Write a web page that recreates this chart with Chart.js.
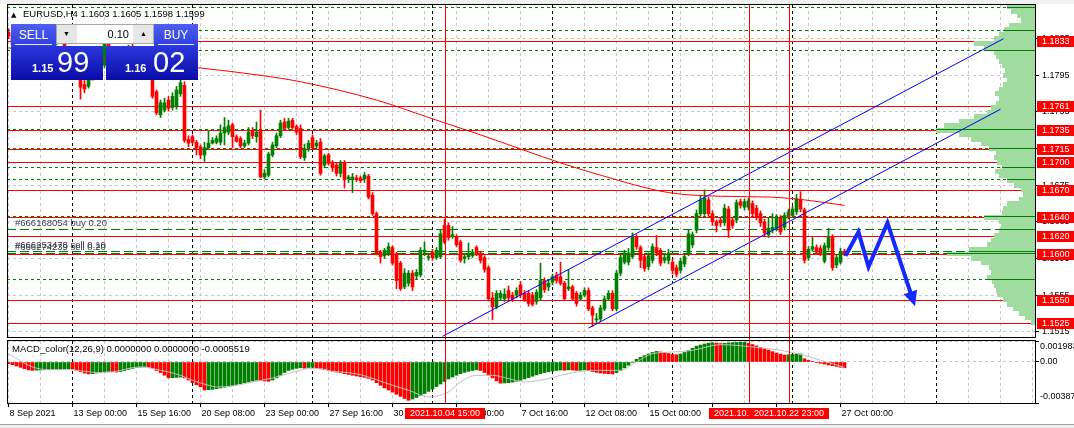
<!DOCTYPE html>
<html>
<head>
<meta charset="utf-8">
<script src="https://cdn.jsdelivr.net/npm/chart.js@4.4.1/dist/chart.umd.min.js"></script>
<style>
body { margin:0; width:1074px; height:428px; overflow:hidden; position:relative; background:#fff; font-family:'Liberation Sans', Arial, sans-serif; }
canvas { position:absolute; left:0; }
#c1 { top:0; }
#c2 { top:338px; }
#topbar { position:absolute; left:0; top:0; width:1074px; height:4px; background:#f0f0f0; }
#botbar { position:absolute; left:0; top:424px; width:1074px; height:4px; background:#f0f0f0; border-top:1px solid #a0a0a0; }
#tp div { position:absolute; box-sizing:border-box; }
#tp .hd { top:24px; height:22px; background:linear-gradient(#4d5ff4,#2f3fdc); color:#fff; font-size:12px; text-align:center; padding-top:5px; line-height:12px; }
#tp .hd i { position:absolute; left:4px; right:4px; bottom:1px; height:1px; background:#dfe3ff; }
#tp .lot { left:56px; top:24px; width:98px; height:20px; background:#e6e6e6; border:1px solid #a8a8a8; }
#tp .lot .sp { top:0; width:19px; height:18px; font-size:7px; text-align:center; line-height:18px; color:#000; }
#tp .lot .fld { left:20px; top:0; width:56px; height:18px; background:#fff; font-size:11px; text-align:right; padding-right:4px; line-height:19px; color:#000; }
#tp .pb { top:46px; width:92px; height:34px; background:linear-gradient(#2b37dc,#0a0ca8); color:#fff; }
#tp .pb b { position:absolute; top:17px; font-size:11px; line-height:11px; }
#tp .pb span { position:absolute; top:2px; font-size:29px; line-height:29px; }
</style>
</head>
<body>
<div id="topbar"></div>
<canvas id="c1" width="1074" height="338"></canvas>
<canvas id="c2" width="1074" height="90"></canvas>
<div id="botbar"></div>
<div id="tp">
  <div class="hd" style="left:11px;width:45px">SELL<i></i></div>
  <div class="lot"><div class="sp" style="left:0">&#9660;</div><div class="fld" id="lotFld"></div><div class="sp" style="left:77px">&#9650;</div></div>
  <div class="hd" style="left:154px;width:44px">BUY<i></i></div>
  <div class="pb" style="left:11px"><b id="bidA" style="left:21px"></b><span id="bidB" style="left:46px"></span></div>
  <div class="pb" style="left:106px"><b id="askA" style="left:19px"></b><span id="askB" style="left:47px"></span></div>
</div>
<script>
// EURUSD H4, bars from 8 Sep 08:00 to 27 Oct 04:00
const symbol = 'EURUSD,H4';
const bidPrice = 1.1599;
const askPrice = 1.1602;
const lotSize = 0.10;

const opens = [
  1.1842,1.1838,1.1829,1.1832,1.1826,1.1815,1.1819,1.1830,1.1840,1.1825,
  1.1828,1.1831,1.1833,1.1836,1.1834,1.1822,1.1816,1.1812,1.1795,1.1785,
  1.1783,1.1790,1.1800,1.1810,1.1806,1.1836,1.1815,1.1805,1.1808,1.1812,
  1.1809,1.1825,1.1818,1.1813,1.1816,1.1803,1.1800,1.1777,1.1752,1.1757,
  1.1768,1.1760,1.1761,1.1775,1.1784,1.1725,1.1728,1.1722,1.1717,1.1708,
  1.1716,1.1721,1.1722,1.1722,1.1732,1.1733,1.1741,1.1728,1.1726,1.1718,
  1.1721,1.1735,1.1728,1.1735,1.1684,1.1686,1.1708,1.1718,1.1729,1.1744,
  1.1738,1.1746,1.1739,1.1737,1.1705,1.1716,1.1727,1.1718,1.1722,1.1697,
  1.1708,1.1699,1.1697,1.1688,1.1699,1.1682,1.1681,1.1683,1.1683,1.1682,
  1.1685,1.1664,1.1644,1.1602,1.1598,1.1601,1.1607,1.1600,1.1590,1.1564,
  1.1568,1.1579,1.1576,1.1577,1.1602,1.1596,1.1602,1.1596,1.1597,1.1631,
  1.1631,1.1619,1.1619,1.1613,1.1595,1.1597,1.1598,1.1607,1.1601,1.1596,
  1.1585,1.1552,1.1542,1.1552,1.1551,1.1560,1.1555,1.1555,1.1566,1.1557,
  1.1557,1.1555,1.1548,1.1552,1.1571,1.1564,1.1569,1.1577,1.1575,1.1568,
  1.1562,1.1564,1.1557,1.1551,1.1555,1.1560,1.1541,1.1528,1.1529,1.1540,
  1.1551,1.1557,1.1540,1.1579,1.1591,1.1591,1.1597,1.1618,1.1607,1.1597,
  1.1586,1.1593,1.1607,1.1604,1.1593,1.1593,1.1591,1.1585,1.1582,1.1589,
  1.1601,1.1610,1.1626,1.1644,1.1644,1.1659,1.1644,1.1635,1.1637,1.1634,
  1.1649,1.1637,1.1637,1.1657,1.1651,1.1651,1.1655,1.1650,1.1644,1.1635,
  1.1621,1.1626,1.1628,1.1639,1.1629,1.1641,1.1642,1.1646,1.1659,1.1648,
  1.1596,1.1605,1.1607,1.1606,1.1592,1.1607,1.1618,1.1588,1.1591,1.1603
];
const highs = [
  1.1846,1.1842,1.1834,1.1836,1.1830,1.1822,1.1832,1.1845,1.1842,1.1832,
  1.1834,1.1836,1.1840,1.1842,1.1838,1.1826,1.1820,1.1814,1.1798,1.1790,
  1.1797,1.1802,1.1812,1.1818,1.1845,1.1840,1.1820,1.1812,1.1815,1.1818,
  1.1828,1.1831,1.1823,1.1819,1.1820,1.1810,1.1804,1.1779,1.1768,1.1770,
  1.1772,1.1776,1.1783,1.1790,1.1788,1.1729,1.1730,1.1724,1.1719,1.1722,
  1.1735,1.1727,1.1729,1.1741,1.1749,1.1746,1.1743,1.1730,1.1728,1.1724,
  1.1738,1.1738,1.1744,1.1757,1.1692,1.1711,1.1722,1.1732,1.1746,1.1748,
  1.1748,1.1748,1.1741,1.1741,1.1720,1.1724,1.1730,1.1724,1.1726,1.1709,
  1.1710,1.1702,1.1699,1.1702,1.1702,1.1686,1.1688,1.1686,1.1685,1.1689,
  1.1687,1.1667,1.1646,1.1604,1.1606,1.1612,1.1609,1.1602,1.1592,1.1584,
  1.1582,1.1582,1.1583,1.1607,1.1613,1.1601,1.1605,1.1607,1.1627,1.1638,
  1.1634,1.1630,1.1621,1.1615,1.1600,1.1612,1.1605,1.1609,1.1603,1.1598,
  1.1587,1.1558,1.1560,1.1560,1.1562,1.1565,1.1558,1.1563,1.1570,1.1560,
  1.1560,1.1558,1.1561,1.1590,1.1574,1.1572,1.1578,1.1580,1.1591,1.1570,
  1.1583,1.1566,1.1559,1.1558,1.1563,1.1563,1.1543,1.1535,1.1544,1.1554,
  1.1560,1.1560,1.1582,1.1599,1.1604,1.1606,1.1623,1.1621,1.1609,1.1599,
  1.1601,1.1611,1.1620,1.1606,1.1600,1.1605,1.1594,1.1588,1.1595,1.1600,
  1.1626,1.1624,1.1648,1.1663,1.1670,1.1662,1.1647,1.1637,1.1640,1.1654,
  1.1652,1.1639,1.1659,1.1660,1.1660,1.1661,1.1658,1.1653,1.1647,1.1638,
  1.1640,1.1644,1.1643,1.1642,1.1645,1.1649,1.1652,1.1665,1.1668,1.1650,
  1.1608,1.1618,1.1610,1.1609,1.1612,1.1628,1.1621,1.1599,1.1606,1.1605
];
const lows = [
  1.1835,1.1826,1.1822,1.1824,1.1812,1.1810,1.1816,1.1826,1.1822,1.1820,
  1.1825,1.1827,1.1828,1.1830,1.1818,1.1812,1.1808,1.1792,1.1769,1.1776,
  1.1781,1.1790,1.1796,1.1804,1.1803,1.1812,1.1800,1.1798,1.1802,1.1806,
  1.1805,1.1815,1.1808,1.1806,1.1800,1.1795,1.1770,1.1752,1.1749,1.1755,
  1.1756,1.1757,1.1758,1.1772,1.1722,1.1717,1.1720,1.1708,1.1704,1.1701,
  1.1714,1.1720,1.1720,1.1719,1.1719,1.1730,1.1716,1.1722,1.1716,1.1716,
  1.1719,1.1726,1.1722,1.1683,1.1682,1.1684,1.1706,1.1716,1.1727,1.1735,
  1.1736,1.1736,1.1730,1.1704,1.1702,1.1712,1.1714,1.1715,1.1686,1.1694,
  1.1697,1.1690,1.1685,1.1684,1.1672,1.1678,1.1667,1.1679,1.1678,1.1678,
  1.1660,1.1642,1.1599,1.1590,1.1595,1.1598,1.1588,1.1562,1.1560,1.1562,
  1.1565,1.1560,1.1573,1.1575,1.1598,1.1593,1.1593,1.1594,1.1595,1.1611,
  1.1615,1.1617,1.1608,1.1591,1.1590,1.1594,1.1596,1.1598,1.1590,1.1580,
  1.1549,1.1528,1.1540,1.1549,1.1548,1.1549,1.1548,1.1552,1.1552,1.1548,
  1.1543,1.1543,1.1545,1.1549,1.1558,1.1560,1.1566,1.1568,1.1566,1.1549,
  1.1560,1.1549,1.1543,1.1549,1.1553,1.1538,1.1521,1.1524,1.1526,1.1538,
  1.1549,1.1538,1.1538,1.1576,1.1589,1.1588,1.1595,1.1605,1.1585,1.1581,
  1.1583,1.1590,1.1598,1.1587,1.1590,1.1589,1.1578,1.1575,1.1579,1.1586,
  1.1598,1.1607,1.1623,1.1641,1.1642,1.1641,1.1631,1.1624,1.1630,1.1631,
  1.1618,1.1628,1.1634,1.1650,1.1648,1.1648,1.1640,1.1637,1.1630,1.1620,
  1.1618,1.1623,1.1625,1.1621,1.1626,1.1638,1.1640,1.1643,1.1646,1.1590,
  1.1593,1.1603,1.1600,1.1598,1.1590,1.1604,1.1582,1.1585,1.1589,1.1598
];
const closes = [
  1.1838,1.1829,1.1832,1.1826,1.1815,1.1819,1.1830,1.1840,1.1825,1.1828,
  1.1831,1.1833,1.1836,1.1834,1.1822,1.1816,1.1812,1.1795,1.1782,1.1780,
  1.1790,1.1800,1.1810,1.1806,1.1836,1.1815,1.1805,1.1808,1.1812,1.1809,
  1.1825,1.1818,1.1813,1.1816,1.1803,1.1800,1.1772,1.1754,1.1765,1.1765,
  1.1759,1.1772,1.1779,1.1787,1.1724,1.1721,1.1722,1.1716,1.1708,1.1716,
  1.1721,1.1724,1.1726,1.1732,1.1738,1.1740,1.1728,1.1723,1.1718,1.1721,
  1.1733,1.1729,1.1733,1.1684,1.1688,1.1709,1.1719,1.1729,1.1743,1.1737,
  1.1745,1.1738,1.1733,1.1706,1.1715,1.1721,1.1716,1.1721,1.1688,1.1707,
  1.1699,1.1694,1.1688,1.1699,1.1681,1.1684,1.1684,1.1681,1.1680,1.1686,
  1.1662,1.1644,1.1601,1.1597,1.1604,1.1608,1.1590,1.1571,1.1562,1.1579,
  1.1579,1.1564,1.1580,1.1604,1.1604,1.1597,1.1596,1.1604,1.1622,1.1613,
  1.1618,1.1621,1.1610,1.1593,1.1597,1.1600,1.1602,1.1601,1.1593,1.1583,
  1.1551,1.1542,1.1557,1.1557,1.1556,1.1552,1.1551,1.1560,1.1555,1.1550,
  1.1546,1.1545,1.1558,1.1571,1.1561,1.1568,1.1575,1.1571,1.1568,1.1551,
  1.1564,1.1551,1.1546,1.1555,1.1560,1.1540,1.1533,1.1529,1.1541,1.1551,
  1.1557,1.1540,1.1579,1.1596,1.1601,1.1601,1.1619,1.1608,1.1593,1.1584,
  1.1598,1.1608,1.1601,1.1590,1.1596,1.1601,1.1582,1.1578,1.1592,1.1597,
  1.1622,1.1621,1.1644,1.1659,1.1661,1.1644,1.1635,1.1631,1.1634,1.1650,
  1.1626,1.1631,1.1656,1.1653,1.1657,1.1658,1.1644,1.1640,1.1634,1.1623,
  1.1628,1.1629,1.1640,1.1624,1.1642,1.1646,1.1649,1.1660,1.1649,1.1593,
  1.1605,1.1608,1.1602,1.1601,1.1609,1.1618,1.1585,1.1596,1.1602,1.1599
];

// moving average (red), read at a few bars
const maIdx = [0, 20, 36, 48, 63, 73, 92, 105, 118, 139, 148, 165, 178, 191, 199, 209];
const maVal = [1.1825, 1.1815, 1.1808, 1.1803, 1.1795, 1.1788, 1.1768, 1.1749, 1.1730, 1.1698, 1.1686, 1.1667, 1.1663, 1.1662, 1.1659, 1.1653];

// channel lines and the hand drawn arrow
const chanAIdx = [108.5, 248.75], chanAVal = [1.1510, 1.1835];
const chanBIdx = [145, 248], chanBVal = [1.1519, 1.1758];
const arrowIdx = [209.25, 212.5, 215, 219.75, 226.25];
const arrowVal = [1.1598, 1.1624, 1.1586, 1.1634, 1.1548];

// horizontal levels
const redLevels = [1.1833, 1.1761, 1.1735, 1.1715, 1.1700, 1.1670, 1.1640, 1.1620, 1.1600, 1.1550, 1.1525];
const greenDotLevels = [1.1870, 1.1845, 1.1823, 1.1736, 1.1716, 1.1695, 1.1682, 1.1641, 1.1573];
const greenDashLevels = [1.1627, 1.1603, 1.1601];
const orderTexts = ['#666168054 buy 0.20', '#666253478 sell 0.10', '#666274239 sell 0.20'];
const orderLevels = [1.1627, 1.1603, 1.1601];

// vertical lines
const vLineIdx = [109, 185, 195];
const vLineLabels = ['2021.10.04 15:00', '2021.10.21 04:00', '2021.10.22 23:00'];

// volume profile on the right
const profLevels = [
  1.1870,1.1865,1.1860,1.1855,1.1850,1.1845,1.1840,1.1835,1.1830,1.1825,
  1.1820,1.1815,1.1810,1.1805,1.1800,1.1795,1.1790,1.1785,1.1780,1.1775,
  1.1770,1.1765,1.1760,1.1755,1.1750,1.1745,1.1740,1.1735,1.1730,1.1725,
  1.1720,1.1715,1.1710,1.1705,1.1700,1.1695,1.1690,1.1685,1.1680,1.1675,
  1.1670,1.1665,1.1660,1.1655,1.1650,1.1645,1.1640,1.1635,1.1630,1.1625,
  1.1620,1.1615,1.1610,1.1605,1.1600,1.1595,1.1590,1.1585,1.1580,1.1575,
  1.1570,1.1565,1.1560,1.1555,1.1550,1.1545,1.1540,1.1535,1.1530,1.1525
];
const profVol = [
  28,24,18,14,26,31,36,41,61,51,
  41,39,36,33,30,32,28,32,36,40,
  36,39,44,48,61,76,91,99,76,64,
  54,46,39,41,38,33,40,36,28,21,
  14,12,16,28,32,33,51,36,34,36,
  41,44,48,66,88,64,54,46,44,48,
  43,41,39,38,32,28,22,16,10,4
];

// axes
const priceTicks = [1.1515, 1.1555, 1.1595, 1.1635, 1.1675, 1.1715, 1.1755, 1.1795, 1.1835];
const timeIdx = [0, 16, 32, 48, 64, 80, 96, 112, 128, 144, 160, 176, 192, 208];
const timeLabels = ['8 Sep 2021', '13 Sep 00:00', '15 Sep 16:00', '20 Sep 08:00', '23 Sep 00:00', '27 Sep 16:00',
  '30 Sep 08:00', '5 Oct 00:00', '7 Oct 16:00', '12 Oct 08:00', '15 Oct 00:00', '19 Oct 16:00', '22 Oct 08:00', '27 Oct 00:00'];
const sepIdx = [16, 46, 76, 106, 136, 166, 196, 232];

// MACD window
const macdHist = [
  -0.00016,-0.00025,-0.00038,-0.00050,-0.00063,-0.00075,-0.00079,-0.00077,-0.00076,-0.00074,
  -0.00073,-0.00072,-0.00070,-0.00068,-0.00066,-0.00063,-0.00068,-0.00078,-0.00092,-0.00105,
  -0.00112,-0.00110,-0.00104,-0.00097,-0.00090,-0.00088,-0.00092,-0.00095,-0.00090,-0.00080,
  -0.00070,-0.00060,-0.00052,-0.00048,-0.00046,-0.00049,-0.00060,-0.00080,-0.00100,-0.00125,
  -0.00150,-0.00148,-0.00145,-0.00142,-0.00150,-0.00170,-0.00195,-0.00215,-0.00235,-0.00265,
  -0.00262,-0.00258,-0.00252,-0.00245,-0.00238,-0.00230,-0.00222,-0.00213,-0.00205,-0.00196,
  -0.00188,-0.00180,-0.00172,-0.00175,-0.00180,-0.00182,-0.00170,-0.00150,-0.00125,-0.00100,
  -0.00080,-0.00068,-0.00060,-0.00055,-0.00058,-0.00052,-0.00050,-0.00055,-0.00065,-0.00072,
  -0.00080,-0.00088,-0.00095,-0.00102,-0.00110,-0.00118,-0.00125,-0.00132,-0.00138,-0.00145,
  -0.00155,-0.00170,-0.00195,-0.00220,-0.00245,-0.00265,-0.00285,-0.00305,-0.00325,-0.00345,
  -0.00362,-0.00350,-0.00335,-0.00318,-0.00298,-0.00278,-0.00256,-0.00232,-0.00208,-0.00185,
  -0.00160,-0.00142,-0.00125,-0.00110,-0.00098,-0.00088,-0.00080,-0.00074,-0.00080,-0.00100,
  -0.00125,-0.00150,-0.00178,-0.00200,-0.00198,-0.00195,-0.00190,-0.00182,-0.00172,-0.00160,
  -0.00148,-0.00135,-0.00122,-0.00110,-0.00100,-0.00092,-0.00085,-0.00080,-0.00076,-0.00078,
  -0.00074,-0.00076,-0.00080,-0.00078,-0.00074,-0.00082,-0.00090,-0.00098,-0.00104,-0.00108,
  -0.00111,-0.00113,-0.00100,-0.00080,-0.00055,-0.00030,-0.00005,0.00025,0.00045,0.00060,
  0.00075,0.00090,0.00100,0.00095,0.00088,0.00080,0.00072,0.00068,0.00075,0.00090,
  0.00110,0.00130,0.00150,0.00160,0.00170,0.00178,0.00182,0.00178,0.00174,0.00176,
  0.00180,0.00183,0.00185,0.00186,0.00187,0.00176,0.00165,0.00152,0.00138,0.00125,
  0.00112,0.00098,0.00085,0.00075,0.00066,0.00069,0.00072,0.00075,0.00076,0.00030,
  0.00015,0.00005,-0.00005,-0.00012,-0.00020,-0.00028,-0.00035,-0.00042,-0.00049,-0.00055
];
const sigIdx = [0,6,10,15,19,23,27,31,34,36,40,43,46,50,52,56,61,66,70,73,75,78,81,85,88,96,100,105,107,110,113,117,121,125,129,135,138,146,153,157,161,166,171,178,186,193,199,203,209];
const sigVal = [0.00079,-0.00047,-0.00072,-0.00072,-0.00088,-0.00101,-0.00088,-0.00053,-0.00047,-0.00063,-0.00094,-0.00126,-0.00173,-0.00220,-0.00236,-0.00226,-0.00189,-0.00151,-0.00110,-0.00079,-0.00063,-0.00063,-0.00088,-0.00101,-0.00120,-0.00220,-0.00267,-0.00330,-0.00324,-0.00283,-0.00189,-0.00126,-0.00126,-0.00157,-0.00189,-0.00157,-0.00126,-0.00079,-0.00079,0.00000,0.00079,0.00094,0.00110,0.00164,0.00142,0.00110,0.00063,0.00016,-0.00050];
const macdTicks = [-0.0038725, 0, 0.0019833];
const macdTickLabels = ['-0.0038725', '0.00', '0.0019833'];
const macdTitle = 'MACD_color(12,26,9) 0.0000000 0.0000000 -0.0005519';

// ---------------------------------------------------------------
const GREEN = '#008000', RED = '#ff0000', GRID = '#c8c8c8';
Chart.defaults.font.family = "'Liberation Sans', Arial, sans-serif";
Chart.defaults.font.size = 9;
Chart.defaults.color = '#000';

const last = opens.length - 1;
const idx = opens.map((_, i) => i);
const candleColors = opens.map((o, i) => closes[i] >= o ? GREEN : RED);
const macdColors = macdHist.map((v, i) => i > 0 && v > macdHist[i - 1] ? GREEN : RED);

const gridIdx = [];
for (let i = 0; i <= 256; i += 8) gridIdx.push(i);
const xTickIdx = [...new Set(gridIdx.concat(sepIdx))].sort((a, b) => a - b);

function pts(xs, ys) { return xs.map((v, k) => ({ x: v, y: ys[k] })); }
function hLine(ctx, a, y) { ctx.beginPath(); ctx.moveTo(a.left, y); ctx.lineTo(a.right, y); ctx.stroke(); }
function px(v) { return Math.round(v) + 0.5; }
function tickVal(c) { return c && c.tick ? c.tick.value : null; }

const xAxis = {
  type: 'linear', min: -0.375, max: 256.625, offset: false,
  afterBuildTicks: s => { s.ticks = xTickIdx.map(v => ({ value: v })); },
  grid: { offset: false, color: c => sepIdx.includes(tickVal(c)) ? '#000' : GRID, drawTicks: false },
  border: { display: false, dash: [3, 3] }
};

// main window plugin: levels, profile, labels
const mainPlugin = {
  id: 'mainDeco',
  beforeDatasetsDraw(chart) {
    const { ctx, chartArea: a, scales } = chart;
    const y = scales.y, xv = scales.xv;
    ctx.save();
    ctx.beginPath(); ctx.rect(a.left, a.top, a.width, a.height); ctx.clip();
    ctx.lineWidth = 1;
    ctx.strokeStyle = RED; ctx.setLineDash([]);
    redLevels.forEach(p => hLine(ctx, a, px(y.getPixelForValue(p))));
    ctx.strokeStyle = GREEN;
    ctx.setLineDash([3, 3]);
    greenDotLevels.forEach(p => hLine(ctx, a, px(y.getPixelForValue(p))));
    ctx.setLineDash([9, 4]);
    greenDashLevels.forEach(p => hLine(ctx, a, px(y.getPixelForValue(p))));
    // profile
    ctx.setLineDash([]);
    ctx.fillStyle = '#a0dca0';
    profLevels.forEach((p, k) => {
      const y0 = Math.round(y.getPixelForValue(p + 0.00025));
      const y1 = Math.round(y.getPixelForValue(p - 0.00025));
      const x0 = Math.round(xv.getPixelForValue(profVol[k]));
      ctx.fillRect(x0, y0, a.right - x0, y1 - y0);
    });
    // green levels run solid across the profile
    greenDotLevels.concat(greenDashLevels).forEach(p => {
      let k = 0;
      profLevels.forEach((q, j) => { if (Math.abs(q - p) < Math.abs(profLevels[k] - p)) k = j; });
      const yy = px(y.getPixelForValue(p));
      ctx.beginPath(); ctx.moveTo(Math.round(xv.getPixelForValue(profVol[k])), yy); ctx.lineTo(a.right, yy); ctx.stroke();
    });
    ctx.restore();
  },
  afterDatasetsDraw(chart) {
    const { ctx, chartArea: a, scales: { x, y } } = chart;
    ctx.save();
    // vertical lines on top of the candles
    ctx.strokeStyle = RED; ctx.lineWidth = 1; ctx.setLineDash([]);
    vLineIdx.forEach(i => {
      const xx = px(x.getPixelForValue(i));
      ctx.beginPath(); ctx.moveTo(xx, a.top); ctx.lineTo(xx, a.bottom); ctx.stroke();
    });
    // arrow head
    const n = arrowIdx.length;
    const x1 = x.getPixelForValue(arrowIdx[n - 2]), y1 = y.getPixelForValue(arrowVal[n - 2]);
    const x2 = x.getPixelForValue(arrowIdx[n - 1]), y2 = y.getPixelForValue(arrowVal[n - 1]);
    const len = Math.hypot(x2 - x1, y2 - y1), dx = (x2 - x1) / len, dy = (y2 - y1) / len;
    const tx = x2 + dx * 5, ty = y2 + dy * 5;
    ctx.fillStyle = '#1428ff';
    ctx.beginPath();
    ctx.moveTo(tx, ty);
    ctx.lineTo(tx - dx * 15 - dy * 7, ty - dy * 15 + dx * 7);
    ctx.lineTo(tx - dx * 15 + dy * 7, ty - dy * 15 - dx * 7);
    ctx.closePath(); ctx.fill();
    ctx.restore();
  },
  afterDraw(chart) {
    const { ctx, chartArea: a, scales: { y } } = chart;
    ctx.save();
    ctx.strokeStyle = '#000'; ctx.lineWidth = 1; ctx.setLineDash([]);
    ctx.strokeRect(a.left + 0.5, a.top - 0.5, a.right - a.left, a.bottom - a.top + 1);
    // order labels
    ctx.font = "9.5px 'Liberation Sans', Arial, sans-serif";
    ctx.textBaseline = 'alphabetic';
    ctx.fillStyle = '#3a3a50';
    orderTexts.forEach((t, k) => ctx.fillText(t, 15, Math.round(y.getPixelForValue(orderLevels[k])) - 3));
    // title
    ctx.fillStyle = '#000';
    ctx.font = "7px 'DejaVu Sans', sans-serif";
    ctx.fillText('\u25B2', 11, 17);
    ctx.font = "9.5px 'Liberation Sans', Arial, sans-serif";
    const ohlc = [opens[last], highs[last], lows[last], closes[last]].map(v => v.toFixed(4)).join(' ');
    ctx.fillText(symbol + ' ' + ohlc, 23, 17);
    // price labels on the right axis
    ctx.font = "9px 'Liberation Sans', Arial, sans-serif";
    ctx.textBaseline = 'middle';
    redLevels.forEach(p => {
      const yy = Math.round(y.getPixelForValue(p));
      ctx.fillStyle = RED; ctx.fillRect(a.right + 2, yy - 5, 1074 - a.right - 2, 11);
      ctx.fillStyle = '#fff'; ctx.fillText(p.toFixed(4), a.right + 7, yy + 0.5);
    });
    ctx.restore();
  }
};

new Chart(document.getElementById('c1'), {
  type: 'bar',
  data: {
    datasets: [
      { type: 'line', data: pts(arrowIdx, arrowVal), borderColor: '#1428ff', borderWidth: 4, pointRadius: 0, borderJoinStyle: 'miter', order: 1 },
      { type: 'line', data: pts(chanAIdx, chanAVal), borderColor: '#0000ff', borderWidth: 1, pointRadius: 0, order: 2 },
      { type: 'line', data: pts(chanBIdx, chanBVal), borderColor: '#0000ff', borderWidth: 1, pointRadius: 0, order: 2 },
      { type: 'line', data: pts(maIdx, maVal), borderColor: RED, borderWidth: 1, pointRadius: 0, cubicInterpolationMode: 'monotone', order: 3 },
      { data: idx.map(i => ({ x: i, y: [opens[i], closes[i]] })), backgroundColor: candleColors, barThickness: 3, minBarLength: 1, grouped: false, order: 4 },
      { data: idx.map(i => ({ x: i, y: [lows[i], highs[i]] })), backgroundColor: candleColors, barThickness: 1, grouped: false, order: 5 }
    ]
  },
  options: {
    responsive: false, animation: false, devicePixelRatio: 1, events: [],
    layout: { padding: { left: 7, top: 5, right: 0, bottom: 1 } },
    plugins: { legend: { display: false }, tooltip: { enabled: false } },
    scales: {
      x: Object.assign({}, xAxis, { ticks: { display: false }, afterFit: s => { s.height = 0; } }),
      y: {
        position: 'right', min: 1.15093, max: 1.18718,
        afterBuildTicks: s => { s.ticks = priceTicks.map(v => ({ value: v })); },
        afterFit: s => { s.width = 39; s.paddingTop = 0; s.paddingBottom = 0; },
        ticks: { padding: 3, callback: v => v.toFixed(4) },
        grid: { color: GRID, tickColor: '#000', tickLength: 4 },
        border: { display: false, dash: [3, 3] }
      },
      // volume scale of the profile: 1 unit per pixel, counted from the right edge
      xv: {
        type: 'linear', position: 'bottom', reverse: true, offset: false, min: 0, max: 1028,
        ticks: { display: false }, grid: { display: false, drawTicks: false, offset: false }, border: { display: false },
        afterFit: s => { s.height = 0; }
      }
    }
  },
  plugins: [mainPlugin]
});

// MACD window plugin
const macdPlugin = {
  id: 'macdDeco',
  afterDatasetsDraw(chart) {
    const { ctx, chartArea: a, scales: { x } } = chart;
    ctx.save();
    ctx.strokeStyle = RED; ctx.lineWidth = 1;
    vLineIdx.forEach(i => {
      const xx = px(x.getPixelForValue(i));
      ctx.beginPath(); ctx.moveTo(xx, 0); ctx.lineTo(xx, a.bottom); ctx.stroke();
    });
    ctx.restore();
  },
  afterDraw(chart) {
    const { ctx, chartArea: a, scales: { x, y } } = chart;
    ctx.save();
    ctx.strokeStyle = '#000'; ctx.lineWidth = 1;
    ctx.strokeRect(a.left + 0.5, a.top - 0.5, a.right - a.left, a.bottom - a.top + 1);
    ctx.font = "9.5px 'Liberation Sans', Arial, sans-serif";
    ctx.fillStyle = '#000';
    ctx.textBaseline = 'alphabetic';
    ctx.fillText(macdTitle, 12, 14);
    ctx.font = "9px 'Liberation Sans', Arial, sans-serif";
    ctx.textBaseline = 'middle';
    macdTicks.forEach((v, k) => {
      let yy = y.getPixelForValue(v);
      if (k === 0) yy -= 6;
      if (k === macdTicks.length - 1) yy += 6;
      ctx.fillText(macdTickLabels[k], a.right + 5, yy);
    });
    // time labels of the vertical lines
    ctx.textAlign = 'center';
    vLineIdx.forEach((i, k) => {
      const xx = Math.round(x.getPixelForValue(i));
      const w = ctx.measureText(vLineLabels[k]).width + 10;
      ctx.fillStyle = RED; ctx.fillRect(xx - w / 2, a.bottom + 5, w, 11);
      ctx.fillStyle = '#fff'; ctx.fillText(vLineLabels[k], xx, a.bottom + 11);
    });
    ctx.restore();
  }
};

new Chart(document.getElementById('c2'), {
  type: 'bar',
  data: {
    datasets: [
      { type: 'line', data: pts(sigIdx, sigVal), borderColor: '#c0c0c0', borderWidth: 1, pointRadius: 0, cubicInterpolationMode: 'monotone', order: 1 },
      { data: idx.map(i => ({ x: i, y: macdHist[i] })), backgroundColor: macdColors, barThickness: 3, grouped: false, order: 2 }
    ]
  },
  options: {
    responsive: false, animation: false, devicePixelRatio: 1, events: [],
    layout: { padding: { left: 7, top: 3, right: 0, bottom: 0 } },
    plugins: { legend: { display: false }, tooltip: { enabled: false } },
    scales: {
      x: Object.assign({}, xAxis, {
        afterFit: s => { s.height = 25; s.paddingLeft = 0; s.paddingRight = 0; },
        ticks: {
          autoSkip: false, maxRotation: 0, align: 'start', padding: 1, labelOffset: 1,
          callback: v => { const k = timeIdx.indexOf(v); return k < 0 ? '' : timeLabels[k]; }
        },
        grid: {
          offset: false,
          color: c => sepIdx.includes(tickVal(c)) ? '#000' : GRID,
          drawTicks: true, tickLength: 4,
          tickColor: c => timeIdx.includes(tickVal(c)) ? '#000' : 'rgba(0,0,0,0)'
        }
      }),
      y: {
        position: 'right', min: macdTicks[0], max: macdTicks[2],
        afterBuildTicks: s => { s.ticks = macdTicks.map(v => ({ value: v })); },
        afterFit: s => { s.width = 39; s.paddingTop = 0; s.paddingBottom = 0; },
        ticks: { display: false },
        grid: { color: GRID, tickColor: '#000', tickLength: 4 },
        border: { display: false, dash: [3, 3] }
      }
    }
  },
  plugins: [macdPlugin]
});

// trade panel texts
const bidS = bidPrice.toFixed(4), askS = askPrice.toFixed(4);
document.getElementById('bidA').textContent = bidS.slice(0, 4);
document.getElementById('bidB').textContent = bidS.slice(4);
document.getElementById('askA').textContent = askS.slice(0, 4);
document.getElementById('askB').textContent = askS.slice(4);
document.getElementById('lotFld').textContent = lotSize.toFixed(2);
</script>
</body>
</html>
